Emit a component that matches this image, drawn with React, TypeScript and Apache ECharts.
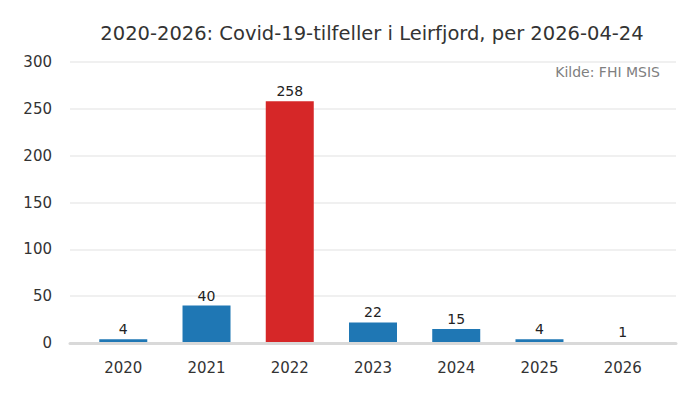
import React, { useEffect, useRef } from "react";
import * as echarts from "echarts";

const categories = ["2020", "2021", "2022", "2023", "2024", "2025", "2026"];
const values = [4, 40, 258, 22, 15, 4, 1];
const highlightIndex = 2;
const yTicks = [0, 50, 100, 150, 200, 250, 300];
const titleText = "2020-2026: Covid-19-tilfeller i Leirfjord, per 2026-04-24";
const sourceText = "Kilde: FHI MSIS";

export default function App() {
  const ref = useRef<HTMLDivElement>(null);
  useEffect(() => {
    if (!ref.current) return;
    const chart = echarts.init(ref.current, undefined, { renderer: "svg" });
    const font = "DejaVu Sans";
    const positions = categories.map((_, i) => i);
    chart.setOption({
      animation: false,
      textStyle: { fontFamily: font },
      title: {
        text: titleText,
        left: 367,
        textAlign: "center",
        top: 18,
        textStyle: { fontFamily: font, fontSize: 19.5, fontWeight: "normal", color: "#333" },
      },
      graphic: [
        {
          type: "text",
          right: 40,
          top: 65,
          style: { text: sourceText, fill: "#808080", font: `14px ${font}` },
        },
      ],
      grid: { left: 70, right: 24, top: 62, bottom: 57 },
      xAxis: {
        type: "value",
        min: -0.64,
        max: categories.length - 1 + 0.64,
        axisTick: { show: false },
        splitLine: { show: false },
        axisLine: { show: true, lineStyle: { color: "#d9d9d9", width: 3 } },
        axisLabel: {
          color: "#333",
          fontSize: 15,
          margin: 17,
          fontFamily: font,
          customValues: positions,
          showMinLabel: true,
          showMaxLabel: true,
          formatter: (v: number) => categories[Math.round(v)] ?? "",
        },
        z: 10,
      },
      yAxis: {
        type: "value",
        min: yTicks[0],
        max: yTicks[yTicks.length - 1],
        interval: 50,
        axisLine: { show: false },
        axisTick: { show: false },
        axisLabel: { color: "#333", fontSize: 15, margin: 18, fontFamily: font },
        splitLine: { lineStyle: { color: "#ebebeb", width: 1.5 } },
      },
      series: [
        {
          type: "bar",
          z: 1,
          data: values.map((v, i) => ({
            value: [positions[i], v],
            itemStyle: { color: i === highlightIndex ? "#d62728" : "#1f77b4" },
          })),
          barWidth: 48,
          label: {
            show: true,
            position: "top",
            distance: 3,
            color: "#222",
            fontSize: 14,
            fontFamily: font,
            formatter: (p: any) => String(p.value[1]),
          },
        },
      ],
    });
    return () => chart.dispose();
  }, []);
  return <div ref={ref} style={{ width: 700, height: 400, margin: -8 }} />;
}
